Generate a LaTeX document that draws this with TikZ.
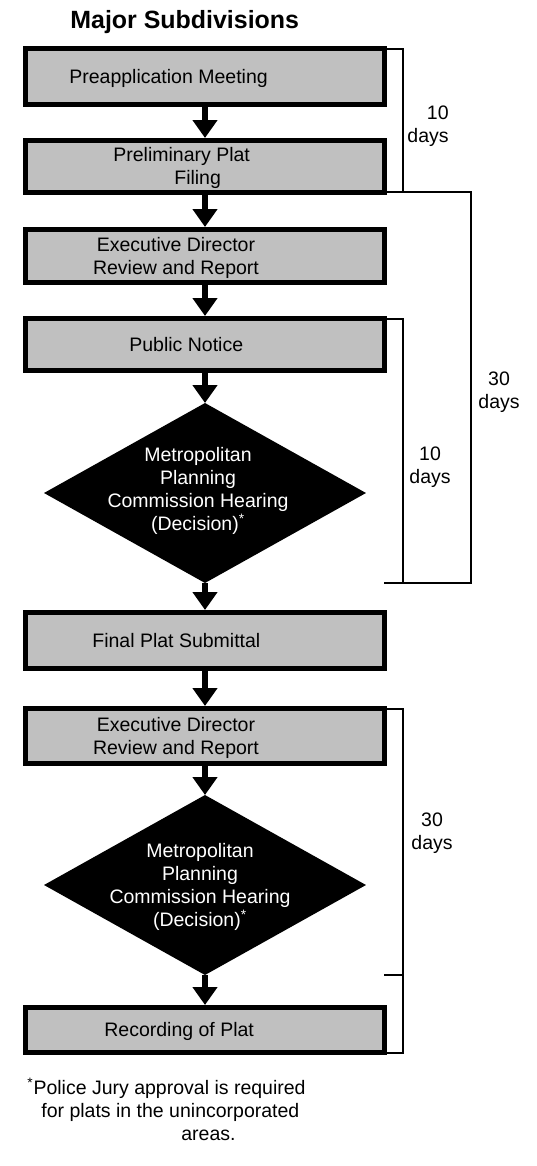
\documentclass[tikz,border=0pt]{standalone}
\usepackage{fontspec}
\setmainfont{Liberation Sans}
\usetikzlibrary{arrows.meta,shapes.geometric}
\definecolor{boxgray}{RGB}{192,192,192}

\begin{document}
\begin{tikzpicture}[x=0.02cm,y=-0.02cm]

\tikzstyle{stage}=[draw,fill=boxgray,line width=0.1cm,minimum width=7.18cm,inner sep=0pt,outer sep=0pt];
\tikzstyle{decision}=[shape=diamond,fill=black,minimum width=6.44cm,minimum height=3.6cm,inner sep=0pt,outer sep=0pt];
\tikzstyle{txt}=[inner sep=0pt,font=\fontsize{11.1}{13.1}\selectfont];
\tikzstyle{flow}=[line width=0.12cm,-{Triangle[width=0.48cm,length=0.36cm]},shorten >=0.05cm];
\tikzstyle{bracket}=[line width=0.04cm];

\useasboundingbox (0,0) rectangle (537,1166);

\node[txt,anchor=north west,font=\bfseries\fontsize{14.2}{17}\selectfont] (title) at (70,10) {Major Subdivisions};

% Draw the steps of the procedure
\node[stage,minimum height=1.12cm] (pre) at (205,76.5) {};
\node[stage,minimum height=1.04cm] (plat) at (205,166.5) {};
\node[stage,minimum height=1.06cm] (rev1) at (205,256) {};
\node[stage,minimum height=1.04cm] (pub) at (205,344.5) {};
\node[decision] (hear1) at (205,493) {};
\node[stage,minimum height=1.12cm] (fin) at (205,640.5) {};
\node[stage,minimum height=1.10cm] (rev2) at (205,736) {};
\node[decision] (hear2) at (205,885) {};
\node[stage,minimum height=0.90cm] (rec) at (205,1030) {};

% Texts of the steps
\node[txt,anchor=north west] (tpre) at (69,69) {Preapplication Meeting};
\node[txt,anchor=north west,align=left] (tplat) at (113,147) {Preliminary Plat\\\hspace*{1.22cm}Filing};
\node[txt,anchor=north,align=center] (trev1) at (176,237) {Executive Director\\Review and Report};
\node[txt,anchor=north west] (tpub) at (129,337) {Public Notice};
\node[txt,anchor=north,align=center,text=white] (thear1) at (198,447) {Metropolitan\\Planning\\Commission Hearing\\(Decision)\textsuperscript{*}};
\node[txt,anchor=north west] (tfin) at (92,633) {Final Plat Submittal};
\node[txt,anchor=north,align=center] (trev2) at (176,717) {Executive Director\\Review and Report};
\node[txt,anchor=north,align=center,text=white] (thear2) at (200,843) {Metropolitan\\Planning\\Commission Hearing\\(Decision)\textsuperscript{*}};
\node[txt,anchor=north west] (trec) at (104,1022) {Recording of Plat};

% Links between the steps
\draw[flow] (pre) -- (plat);
\draw[flow] (plat) -- (rev1);
\draw[flow] (rev1) -- (pub);
\draw[flow,shorten >=0pt] (pub) -- (hear1);
\draw[flow] (hear1) -- (fin);
\draw[flow] (fin) -- (rev2);
\draw[flow,shorten >=0pt] (rev2) -- (hear2);
\draw[flow] (hear2) -- (rec);

% Time brackets
\draw[bracket] (pre.north east) -- ++(18.5,0) |- (plat.south east);
\draw[bracket] (plat.south east) -- ++(86.5,0) |- (hear1.south -| pub.east);
\draw[bracket] (pub.north east) -- ++(18.5,0) |- (hear1.south -| pub.east);
\draw[bracket] (rev2.north east) -- ++(18.5,0) |- (rec.south east);
\draw[bracket] (hear2.south -| rec.east) -- ++(18.5,0);

\node[txt,anchor=north east,align=right] (days1) at (449,106) {10\\days};
\node[txt,anchor=north,align=center] (days2) at (499,372) {30\\days};
\node[txt,anchor=north,align=center] (days3) at (430,447) {10\\days};
\node[txt,anchor=north,align=center] (days4) at (432,813) {30\\days};

% Footnote
\node[txt,anchor=north west,align=left] (note) at (27,1078) {\textsuperscript{*}Police Jury approval is required\\\hspace*{0.28cm}for plats in the unincorporated\\\hspace*{3.08cm}areas.};

\end{tikzpicture}
\end{document}
